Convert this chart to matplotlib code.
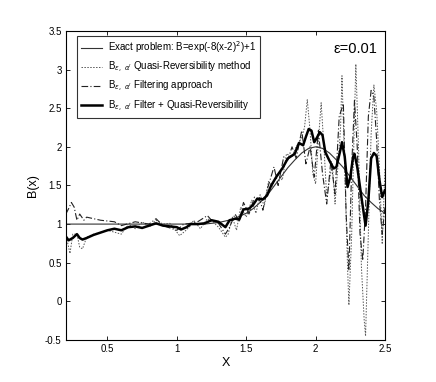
import numpy as np
import matplotlib
matplotlib.use("Agg")
import matplotlib.pyplot as plt

plt.rcParams['font.family'] = ['Liberation Sans', 'DejaVu Sans']

# Exact solution
x_exact = [0.2, 0.4, 0.6, 0.8, 1.0, 1.2, 1.3, 1.4, 1.5, 1.55, 1.6, 1.65, 1.7, 1.75,
           1.8, 1.85, 1.9, 1.95, 2.0, 2.05, 2.1, 2.15, 2.2, 2.25, 2.3, 2.35, 2.4, 2.45, 2.5]
y_exact = [1.0, 1.0, 1.0, 1.0, 1.0, 1.0, 1.02, 1.06, 1.14, 1.20, 1.28, 1.37, 1.49, 1.61,
           1.73, 1.83, 1.92, 1.98, 2.0, 1.98, 1.92, 1.83, 1.73, 1.61, 1.49, 1.37, 1.28, 1.20, 1.14]

# Quasi-Reversibility method (dotted)
x_qr = [0.2, 0.22, 0.23, 0.25, 0.28, 0.3, 0.32, 0.35, 0.4, 0.5, 0.6, 0.65, 0.7, 0.75, 0.8,
        0.85, 0.9, 0.95, 1.02, 1.06, 1.1, 1.12, 1.17, 1.22, 1.26, 1.3, 1.35, 1.37, 1.4, 1.43,
        1.46, 1.5, 1.54, 1.57, 1.6, 1.63, 1.66, 1.69, 1.72, 1.76, 1.79, 1.83, 1.86, 1.9, 1.92,
        1.94, 1.96, 1.98, 2.0, 2.02, 2.04, 2.06, 2.08, 2.1, 2.12, 2.14, 2.16, 2.18, 2.19, 2.21,
        2.23, 2.24, 2.26, 2.28, 2.29, 2.31, 2.33, 2.35, 2.36, 2.38, 2.4, 2.42, 2.44, 2.46, 2.48, 2.5]
y_qr = [0.87, 0.70, 0.62, 0.87, 0.87, 0.70, 0.68, 0.83, 0.87, 0.92, 0.87, 1.0, 0.94, 1.03, 0.96,
        1.05, 1.0, 1.01, 0.85, 0.91, 0.98, 1.05, 0.94, 1.07, 1.03, 0.96, 0.83, 0.87, 1.09, 0.92,
        1.22, 1.09, 1.31, 1.14, 1.38, 1.23, 1.55, 1.49, 1.65, 1.57, 1.91, 1.87, 2.0, 2.12, 2.25,
        2.61, 2.21, 1.65, 1.52, 2.08, 2.57, 2.0, 1.35, 1.57, 1.78, 1.26, 1.73, 2.25, 2.92, 1.73,
        0.45, -0.05, 0.87, 2.38, 3.07, 1.95, 0.45, -0.24, -0.45, 0.87, 2.16, 2.80, 2.47, 1.73, 0.74, 1.73]

# Filtering approach (dash-dot)
x_f = [0.2, 0.22, 0.24, 0.26, 0.28, 0.3, 0.33, 0.35, 0.4, 0.45, 0.5, 0.55, 0.6, 0.7, 0.8,
       0.85, 0.9, 1.0, 1.05, 1.1, 1.15, 1.22, 1.25, 1.3, 1.35, 1.38, 1.42, 1.45, 1.48, 1.52,
       1.56, 1.6, 1.62, 1.65, 1.7, 1.73, 1.77, 1.8, 1.83, 1.86, 1.9, 1.93, 1.96, 1.99, 2.02,
       2.05, 2.08, 2.11, 2.14, 2.17, 2.2, 2.22, 2.24, 2.26, 2.28, 2.3, 2.32, 2.34, 2.36, 2.38,
       2.4, 2.42, 2.44, 2.46, 2.48, 2.5]
y_f = [1.13, 1.20, 1.28, 1.22, 1.05, 1.13, 1.05, 1.09, 1.07, 1.05, 1.04, 1.03, 0.98, 1.03, 1.0,
       1.07, 0.98, 0.92, 1.0, 1.01, 1.03, 1.11, 1.05, 1.01, 0.87, 0.96, 1.13, 1.03, 1.28, 1.13,
       1.35, 1.30, 1.18, 1.44, 1.74, 1.50, 1.87, 1.83, 2.0, 1.85, 2.21, 1.78, 2.0, 1.61, 2.21,
       1.65, 1.26, 1.82, 1.39, 2.39, 2.56, 1.13, 0.40, 1.74, 2.60, 2.0, 0.87, 0.53, 1.22, 2.39,
       2.73, 2.65, 2.08, 1.30, 0.87, 1.22]

# Filter + Quasi-Reversibility (thick)
x_fqr = [0.2, 0.22, 0.25, 0.28, 0.3, 0.32, 0.35, 0.4, 0.5, 0.55, 0.6, 0.65, 0.7, 0.75, 0.8,
         0.85, 0.9, 0.95, 1.0, 1.03, 1.07, 1.1, 1.15, 1.2, 1.25, 1.3, 1.35, 1.38, 1.42, 1.45,
         1.48, 1.52, 1.55, 1.58, 1.62, 1.65, 1.68, 1.72, 1.76, 1.8, 1.85, 1.88, 1.91, 1.93, 1.95,
         1.97, 1.99, 2.01, 2.03, 2.05, 2.07, 2.1, 2.13, 2.15, 2.18, 2.19, 2.21, 2.23, 2.25, 2.27,
         2.28, 2.3, 2.33, 2.36, 2.38, 2.4, 2.42, 2.44, 2.46, 2.48, 2.5]
y_fqr = [0.84, 0.79, 0.82, 0.87, 0.82, 0.80, 0.82, 0.86, 0.92, 0.94, 0.92, 0.96, 0.97, 0.95, 0.98,
         1.01, 0.98, 0.97, 0.96, 0.93, 0.96, 1.0, 1.0, 1.01, 1.05, 1.03, 0.96, 1.05, 1.07, 1.06,
         1.19, 1.20, 1.25, 1.33, 1.32, 1.37, 1.50, 1.62, 1.72, 1.85, 1.91, 2.05, 2.02, 2.13, 2.23,
         2.21, 2.06, 2.12, 2.19, 2.15, 1.93, 1.82, 1.72, 1.74, 1.97, 2.06, 1.87, 1.48, 1.61, 1.87,
         1.91, 1.74, 1.35, 0.98, 1.30, 1.85, 1.92, 1.88, 1.57, 1.35, 1.44]

fig = plt.figure(figsize=(4.36, 3.82), dpi=100)
ax = fig.add_axes([0.151, 0.110, 0.732, 0.809])

ax.plot(x_exact, y_exact, color='#333333', lw=0.8, label='Exact problem: B=exp(-8(x-2)$^2$)+1')
ax.plot(x_qr, y_qr, color='#555555', lw=0.7, ls=(0, (1.5, 1.5)),
        label=r"B$_{\epsilon,\ \alpha'}$ Quasi-Reversibility method")
ax.plot(x_f, y_f, color='#222222', lw=0.8, ls=(0, (6, 2, 1, 2)),
        label=r"B$_{\epsilon,\ \alpha'}$ Filtering approach")
ax.plot(x_fqr, y_fqr, color='black', lw=1.8,
        label=r"B$_{\epsilon,\ \alpha'}$ Filter + Quasi-Reversibility")

ax.set_xlim(0.2, 2.5)
ax.set_ylim(-0.5, 3.5)
ax.set_xticks([0.5, 1, 1.5, 2, 2.5])
ax.set_xticklabels(['0.5', '1', '1.5', '2', '2.5'])
ax.set_yticks([-0.5, 0, 0.5, 1, 1.5, 2, 2.5, 3, 3.5])
ax.set_yticklabels(['-0.5', '0', '0.5', '1', '1.5', '2', '2.5', '3', '3.5'])
ax.tick_params(direction='in', top=True, right=True, labelsize=7, length=3, width=0.6, pad=3)
for s in ax.spines.values():
    s.set_linewidth(0.8)

ax.set_xlabel('X', fontsize=9, labelpad=2)
ax.set_ylabel('B(x)', fontsize=9, labelpad=4)

ax.text(2.13, 3.22, 'ε=0.01', fontsize=10.5)

leg = ax.legend(loc='upper left', bbox_to_anchor=(0.035, 0.985), fontsize=7,
                frameon=True, fancybox=False, edgecolor='black', handlelength=2.2,
                borderpad=0.4, labelspacing=0.45, handletextpad=0.6, borderaxespad=0)
leg.get_frame().set_linewidth(0.8)

fig.savefig('out.png', dpi=100)
